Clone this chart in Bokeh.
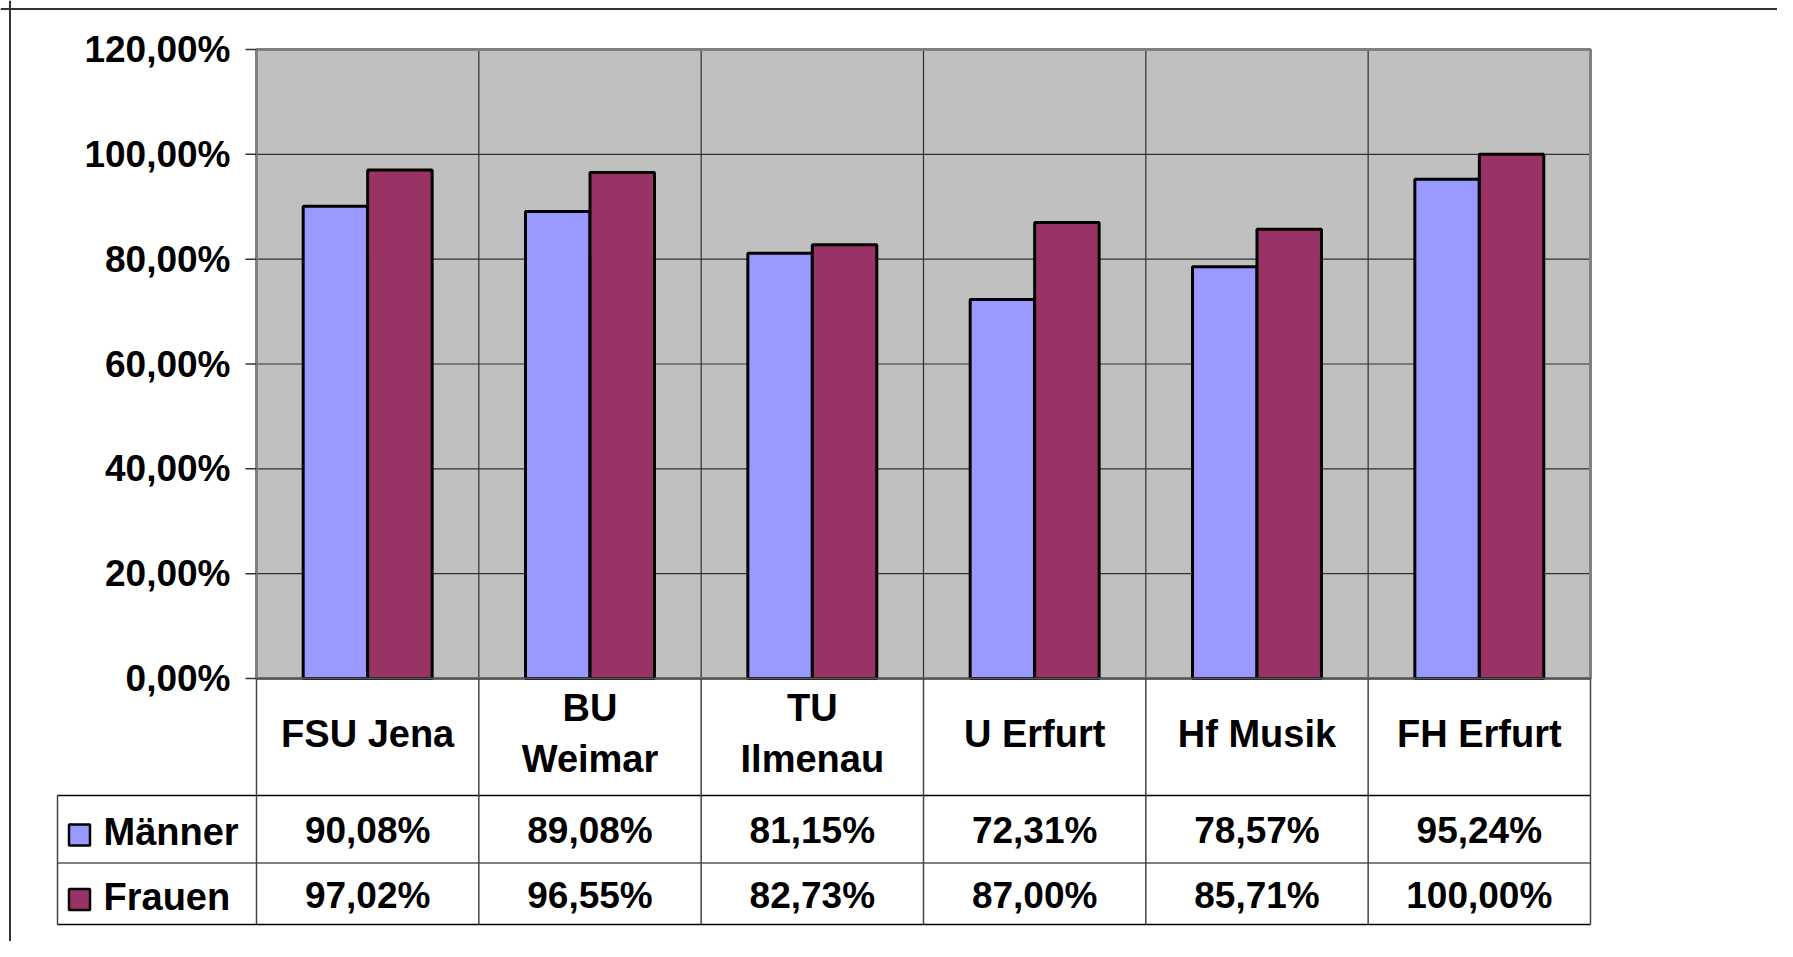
from bokeh.plotting import figure
from bokeh.models import Span, Range1d
from bokeh.embed import file_html
from bokeh.resources import INLINE
from bokeh.core.properties import value

# ---------------- data ----------------
categories = ["FSU Jena", "BU\nWeimar", "TU\nIlmenau", "U Erfurt", "Hf Musik", "FH Erfurt"]
maenner = [90.08, 89.08, 81.15, 72.31, 78.57, 95.24]
frauen = [97.02, 96.55, 82.73, 87.00, 85.71, 100.00]
series_names = ["Männer", "Frauen"]
y_ticks = [0, 20, 40, 60, 80, 100, 120]

# ---------------- layout constants ----------------
W, H = 1777, 941
PX_LEFT, COL_W = 256.0, 222.33        # figure px of plot-left, px per column
PX_ZERO, PX_PER_PCT = 678.0, 629.0 / 120.0

def xd(px):  # figure px -> data x
    return (px - PX_LEFT) / COL_W

def yd(py):  # figure px (from top) -> data y
    return (PX_ZERO - py) / PX_PER_PCT

FONT = value("Liberation Sans")
FS = "37px"
FS_CAT = "38px"
C_M, C_F, C_BG, C_BORDER = "#9999FF", "#993366", "#C0C0C0", "#808080"

n = len(categories)
p = figure(width=W, height=H, output_backend="svg", toolbar_location=None,
           x_axis_location=None, y_axis_location=None, min_border=0,
           x_range=Range1d(xd(0), xd(W)), y_range=Range1d(yd(H), yd(0)),
           outline_line_color=None)
p.xgrid.visible = False
p.ygrid.visible = False

# plot area background
p.quad(left=[0], right=[n], bottom=[y_ticks[0]], top=[y_ticks[-1]],
       fill_color=C_BG, line_color=None)

# horizontal grid lines
p.segment(x0=[0] * len(y_ticks), x1=[n] * len(y_ticks), y0=y_ticks, y1=y_ticks,
          line_color="#303030", line_width=1.2)
# vertical column lines inside plot
p.segment(x0=list(range(1, n)), x1=list(range(1, n)), y0=[0] * (n - 1),
          y1=[y_ticks[-1]] * (n - 1), line_color="#303030", line_width=1.2)

# plot area border
p.quad(left=[0], right=[n], bottom=[y_ticks[0]], top=[y_ticks[-1]],
       fill_color=None, line_color=C_BORDER, line_width=3)

# tick marks and labels
tick_len = xd(PX_LEFT - 11)
p.segment(x0=[tick_len] * len(y_ticks), x1=[0] * len(y_ticks), y0=y_ticks, y1=y_ticks,
          line_color="#333333", line_width=1.5)
tick_labels = [f"{t:.2f}".replace(".", ",") + "%" for t in y_ticks]
p.text(x=[xd(PX_LEFT - 26)] * len(y_ticks), y=y_ticks, text=tick_labels,
       text_align="right", text_baseline="middle", text_font=FONT,
       text_font_size=FS, text_font_style="bold", text_color="black")

# bars
centers = [i + 0.5 for i in range(n)]
bw = 0.29
p.vbar(x=[c - bw / 2 for c in centers], top=maenner, bottom=0, width=bw,
       fill_color=C_M, line_color="black", line_width=3)
p.vbar(x=[c + bw / 2 for c in centers], top=frauen, bottom=0, width=bw,
       fill_color=C_F, line_color="black", line_width=3)

# re-draw bottom border of plot
p.segment(x0=[0], x1=[n], y0=[0], y1=[0], line_color="#555555", line_width=2)

# ---------------- data table ----------------
y_row1 = yd(795)   # bottom of category row
y_row2 = yd(862.5)   # between Männer and Frauen
y_row3 = yd(924)   # bottom of table
x_tab = xd(57)

p.segment(x0=[x_tab, x_tab, x_tab], x1=[n, n, n], y0=[y_row1, y_row2, y_row3],
          y1=[y_row1, y_row2, y_row3],
          line_color=["black", C_BORDER, "black"], line_width=[1.5, 2, 1.5])
p.segment(x0=[x_tab], x1=[x_tab], y0=[y_row1], y1=[y_row3], line_color="#444444", line_width=1.5)
p.segment(x0=list(range(0, n + 1)), x1=list(range(0, n + 1)), y0=[0] * (n + 1),
          y1=[y_row3] * (n + 1), line_color="#444444", line_width=1.5)

# category labels
p.text(x=centers, y=[yd(733)] * n, text=categories, text_align="center",
       text_baseline="middle", text_font=FONT, text_font_size=FS_CAT,
       text_font_style="bold", text_color="black", text_line_height=1.22)

# values
fmt = lambda v: f"{v:.2f}".replace(".", ",") + "%"
p.text(x=centers, y=[yd(830)] * n, text=[fmt(v) for v in maenner], text_align="center",
       text_baseline="middle", text_font=FONT, text_font_size=FS,
       text_font_style="bold", text_color="black")
p.text(x=centers, y=[yd(895)] * n, text=[fmt(v) for v in frauen], text_align="center",
       text_baseline="middle", text_font=FONT, text_font_size=FS,
       text_font_style="bold", text_color="black")

# legend keys
p.rect(x=[xd(79)] * 2, y=[yd(834.5), yd(899)], width=21, height=21,
       width_units="screen", height_units="screen",
       fill_color=[C_M, C_F], line_color="black", line_width=2.5)
p.text(x=[xd(103)] * 2, y=[yd(831), yd(896)], text=series_names, text_align="left",
       text_baseline="middle", text_font=FONT, text_font_size=FS_CAT,
       text_font_style="bold", text_color="black")

# outer frame lines (left and top)
p.add_layout(Span(location=xd(9.5), dimension="height", line_color="#333333", line_width=2))
p.add_layout(Span(location=yd(8.5), dimension="width", line_color="#333333", line_width=2))

open("out.html", "w").write(file_html(p, INLINE))
